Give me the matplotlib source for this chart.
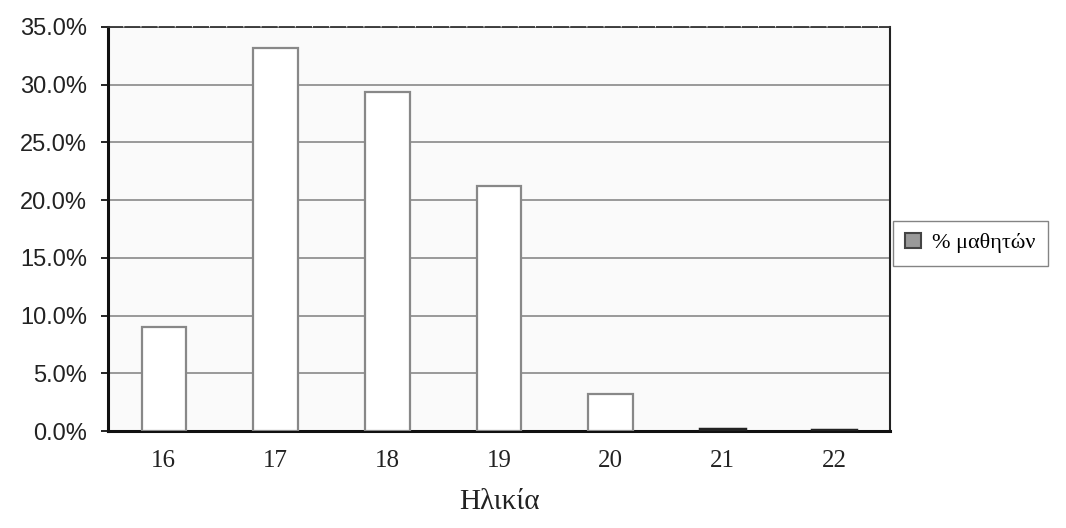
import matplotlib.pyplot as plt

ages = ['16', '17', '18', '19', '20', '21', '22']
pct = [9.0, 33.2, 29.4, 21.2, 3.2, 0.2, 0.1]
series_name = '% μαθητών'

fig = plt.figure(figsize=(10.66, 5.28), dpi=100)
ax = fig.add_axes([0.1013, 0.1837, 0.7336, 0.7652])
ax.set_facecolor('#fafafa')

x = range(len(ages))
bars = ax.bar(x, pct, width=0.4, color='white', edgecolor='#888888', linewidth=1.6,
              label=series_name, zorder=3)
# the near-zero bars show up as a dark line on the axis
for b, v in zip(bars, pct):
    if v < 1:
        b.set_edgecolor('#222222')
        b.set_linewidth(2.5)

ax.set_xlim(-0.5, len(ages) - 0.5)
ax.set_ylim(0, 35)
ax.set_yticks([0, 5, 10, 15, 20, 25, 30, 35])
ax.set_yticklabels([f'{v:.1f}%' for v in range(0, 36, 5)],
                   fontfamily='Liberation Sans', fontsize=17, color='#222222')
ax.set_xticks(list(x))
ax.set_xticklabels(ages, fontfamily='Liberation Serif', fontsize=18, color='#222222')
ax.tick_params(axis='y', length=5, width=1.2, pad=10)
ax.tick_params(axis='x', length=0, pad=14)

ax.yaxis.grid(True, color='#999999', linewidth=1.4, zorder=0)
ax.set_axisbelow(True)

for side in ['left', 'bottom']:
    ax.spines[side].set_color('#111111')
    ax.spines[side].set_linewidth(2.2)
ax.spines['right'].set_color('#222222')
ax.spines['right'].set_linewidth(1.5)
ax.spines['top'].set_color('#333333')
ax.spines['top'].set_linewidth(1.3)
ax.spines['top'].set_linestyle((0, (8, 1.5)))

ax.set_xlabel('Ηλικία', fontfamily='Liberation Serif', fontsize=21,
              color='#222222', labelpad=12)

leg = ax.legend(loc='center left', bbox_to_anchor=(1.004, 0.465), frameon=True,
                fancybox=False, edgecolor='#666666', borderaxespad=0,
                handlelength=0.7, handleheight=0.7, handletextpad=0.5,
                borderpad=0.55, prop={'family': 'Liberation Serif', 'size': 16})
leg.legend_handles[0].set_facecolor('#999999')
leg.legend_handles[0].set_edgecolor('#444444')
leg.legend_handles[0].set_linewidth(1.5)

fig.savefig('out.png', dpi=100)
